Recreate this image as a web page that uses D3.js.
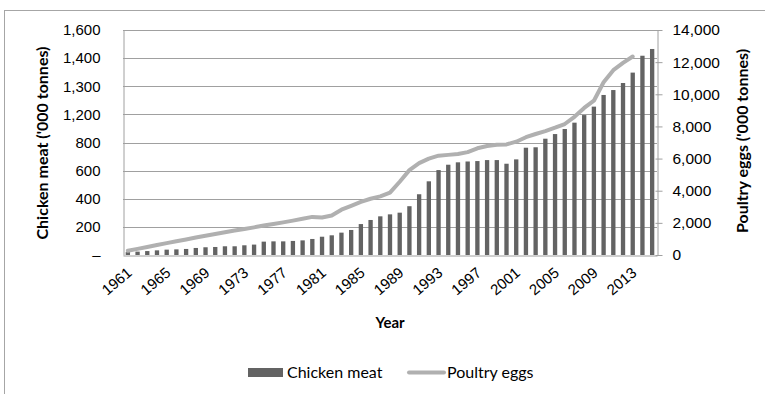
<!DOCTYPE html>
<html>
<head>
<meta charset="utf-8">
<script src="https://cdn.jsdelivr.net/npm/d3@7"></script>
<style>
  html, body { margin: 0; padding: 0; background: #fff; }
  svg { display: block; font-family: Lato, "Open Sans", sans-serif; }
</style>
</head>
<body>
<svg id="chart" width="765" height="394"></svg>
<script>
// Annual production, 1961–2015 ('000 tonnes)
const years = d3.range(1961, 2016);
const chickenMeat = [
  21, 24, 28, 33, 38, 40, 43, 50, 55, 57,
  62, 62, 69, 74, 95, 97, 97, 100, 104, 114,
  130, 140, 159, 178, 220, 249, 275, 289, 301, 347,
  432, 524, 604, 642, 659, 665, 668, 675, 675, 649,
  680, 763, 766, 827, 860, 896, 941, 995, 1055, 1138,
  1173, 1223, 1297, 1417, 1465
];
// Egg series runs 1961–2013
const poultryEggs = [
  260, 380, 500, 620, 740, 860, 970, 1090, 1200, 1310,
  1420, 1520, 1620, 1720, 1830, 1930, 2030, 2140, 2250, 2370,
  2330, 2460, 2820, 3060, 3300, 3500, 3650, 3880, 4560, 5280,
  5720, 6000, 6180, 6230, 6280, 6400, 6640, 6780, 6860, 6880,
  7050, 7330, 7530, 7710, 7920, 8150, 8600, 9150, 9600, 10750,
  11500, 11950, 12350
];
const leftTickValues = [0, 200, 400, 600, 800, 1000, 1200, 1400, 1600];
const leftTickLabels = ["–", "200", "400", "600", "800", "1,200", "1,300", "1,400", "1,600"];
const rightTickValues = [0, 2000, 4000, 6000, 8000, 10000, 12000, 14000];
const xLabelYears = d3.range(1961, 2014, 4);

const svg = d3.select("#chart");
const plot = { left: 123, right: 657, top: 30, bottom: 255 };
const gridColor = "#a0a0a0";
const textColor = "#000";
const barColor = "#636363";
const lineColor = "#b0b0b0";

// outer chart frame
svg.append("rect")
  .attr("x", 4.5).attr("y", 10.5)
  .attr("width", 800).attr("height", 420)
  .attr("fill", "none").attr("stroke", "#a6a6a6").attr("stroke-width", 1);

const x = d3.scaleBand()
  .domain(years)
  .range([plot.left, plot.right])
  .paddingInner(0.555)
  .paddingOuter(0.2775);

const yLeft = d3.scaleLinear().domain([0, 1600]).range([plot.bottom, plot.top]);
const yRight = d3.scaleLinear().domain([0, 14000]).range([plot.bottom, plot.top]);

// horizontal gridlines
svg.append("g")
  .selectAll("line")
  .data(leftTickValues.slice(1))
  .join("line")
  .attr("x1", plot.left).attr("x2", plot.right)
  .attr("y1", d => Math.round(yLeft(d)) + 0.5)
  .attr("y2", d => Math.round(yLeft(d)) + 0.5)
  .attr("stroke", gridColor).attr("stroke-width", 1);

// bars
svg.append("g")
  .selectAll("rect")
  .data(years.map((yr, i) => ({ yr, v: chickenMeat[i] })))
  .join("rect")
  .attr("x", d => x(d.yr))
  .attr("width", x.bandwidth())
  .attr("y", d => yLeft(d.v))
  .attr("height", d => plot.bottom - yLeft(d.v))
  .attr("fill", barColor);

// egg line
const line = d3.line()
  .x(d => x(d.yr) + x.bandwidth() / 2)
  .y(d => yRight(d.v));
svg.append("path")
  .datum(poultryEggs.map((v, i) => ({ yr: years[i], v })))
  .attr("d", line)
  .attr("fill", "none")
  .attr("stroke", lineColor)
  .attr("stroke-width", 4)
  .attr("stroke-linejoin", "round")
  .attr("stroke-linecap", "round");

// left axis
const leftAxis = d3.axisLeft(yLeft)
  .tickValues(leftTickValues)
  .tickSize(0)
  .tickPadding(23)
  .tickFormat((d, i) => leftTickLabels[i]);
const gL = svg.append("g").attr("transform", `translate(${plot.left + 0.5},0)`).call(leftAxis);
gL.select(".domain").attr("stroke", gridColor);
gL.selectAll("text").attr("font-size", 15).attr("fill", textColor);

// right axis
const rightAxis = d3.axisRight(yRight)
  .tickValues(rightTickValues)
  .tickSizeInner(5).tickSizeOuter(0)
  .tickPadding(10)
  .tickFormat(d3.format(","));
const gR = svg.append("g").attr("transform", `translate(${plot.right + 0.5},0)`).call(rightAxis);
gR.select(".domain").attr("stroke", gridColor);
gR.selectAll(".tick line").attr("stroke", gridColor).attr("x1", -2);
gR.selectAll("text").attr("font-size", 15.5).attr("fill", textColor);

// bottom axis
const bottomAxis = d3.axisBottom(x)
  .tickValues(xLabelYears)
  .tickSize(0)
  .tickFormat(d => d);
const gB = svg.append("g").attr("transform", `translate(0,${plot.bottom + 0.5})`).call(bottomAxis);
gB.select(".domain").attr("stroke", gridColor);
gB.selectAll("text")
  .attr("font-size", 15)
  .attr("fill", textColor)
  .attr("text-anchor", "end")
  .attr("dy", null)
  .attr("y", 0)
  .attr("transform", "translate(5,19) rotate(-40)");

// axis titles
svg.append("text")
  .attr("transform", "translate(48,143) rotate(-90)")
  .attr("text-anchor", "middle")
  .attr("font-size", 16).attr("font-weight", "bold")
  .text("Chicken meat ('000 tonnes)");

svg.append("text")
  .attr("transform", "translate(748,141) rotate(-90)")
  .attr("text-anchor", "middle")
  .attr("font-size", 16).attr("font-weight", "bold")
  .text("Poultry eggs ('000 tonnes)");

svg.append("text")
  .attr("x", (plot.left + plot.right) / 2).attr("y", 328)
  .attr("text-anchor", "middle")
  .attr("font-size", 15).attr("font-weight", "bold")
  .text("Year");

// legend
const lg = svg.append("g");
lg.append("rect").attr("x", 248).attr("y", 368).attr("width", 35).attr("height", 9).attr("fill", barColor);
lg.append("text").attr("x", 287).attr("y", 378).attr("font-size", 16).text("Chicken meat");
lg.append("line").attr("x1", 409).attr("x2", 444).attr("y1", 372.5).attr("y2", 372.5)
  .attr("stroke", lineColor).attr("stroke-width", 4).attr("stroke-linecap", "round");
lg.append("text").attr("x", 447).attr("y", 378).attr("font-size", 16).text("Poultry eggs");
</script>
</body>
</html>
